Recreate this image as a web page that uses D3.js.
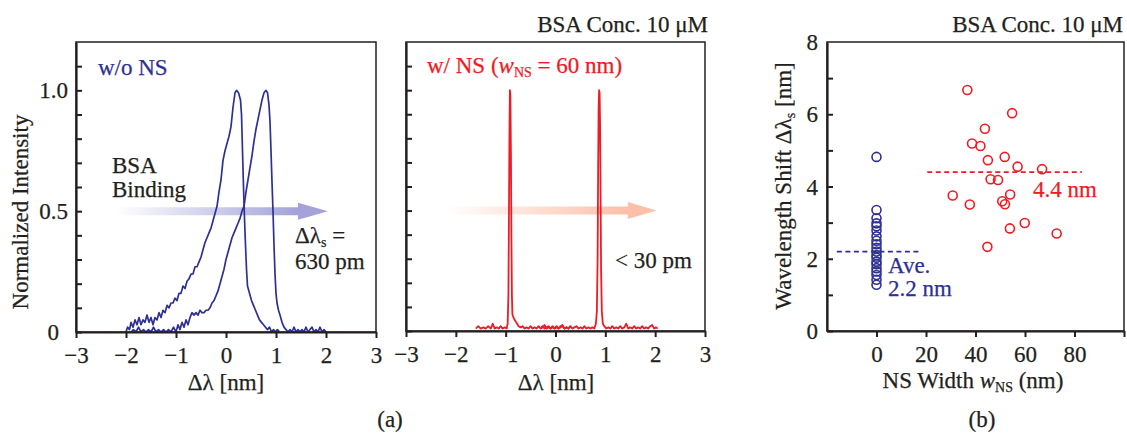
<!DOCTYPE html>
<html>
<head>
<meta charset="utf-8">
<script src="https://cdn.jsdelivr.net/npm/d3@7"></script>
<style>
  html, body { margin: 0; padding: 0; background: #fff; }
  svg text { font-family: "Liberation Serif", "Times New Roman", serif; }
</style>
</head>
<body>
<svg id="fig" width="1127" height="433"></svg>
<script>
// ---- spectra without nanoslot: before / after BSA binding (Δλ in nm, normalized intensity)
const blueBefore = [
  [-2.00,0.00],[-1.97,0.02],[-1.93,0.01],[-1.90,0.04],[-1.86,0.02],[-1.82,0.05],[-1.78,0.03],
  [-1.74,0.06],[-1.70,0.03],[-1.66,0.05],[-1.62,0.04],[-1.58,0.07],[-1.54,0.04],[-1.50,0.06],
  [-1.46,0.03],[-1.42,0.06],[-1.38,0.05],[-1.34,0.08],[-1.30,0.06],[-1.26,0.09],[-1.22,0.08],
  [-1.18,0.11],[-1.14,0.10],[-1.10,0.12],[-1.06,0.12],[-1.02,0.14],[-0.98,0.13],[-0.94,0.16],
  [-0.90,0.16],[-0.86,0.19],[-0.82,0.18],[-0.78,0.21],[-0.74,0.22],[-0.70,0.24],[-0.66,0.24],
  [-0.62,0.27],[-0.58,0.27],[-0.54,0.29],[-0.50,0.31],[-0.46,0.34],[-0.42,0.37],[-0.38,0.39],
  [-0.34,0.41],[-0.30,0.43],[-0.26,0.46],[-0.22,0.49],[-0.18,0.52],[-0.14,0.58],[-0.10,0.63],
  [-0.06,0.71],[-0.02,0.75],[0.02,0.78],[0.06,0.81],[0.10,0.85],[0.14,0.93],[0.18,0.99],
  [0.21,1.00],[0.25,0.99],[0.29,0.96],[0.31,0.90],[0.33,0.75],[0.35,0.60],[0.37,0.47],
  [0.39,0.36],[0.41,0.26],[0.43,0.19],[0.47,0.16],[0.51,0.13],[0.55,0.11],[0.59,0.09],
  [0.63,0.07],[0.67,0.05],[0.71,0.04],[0.75,0.03],[0.79,0.02],[0.83,0.01],[0.87,0.02],
  [0.91,0.00],[0.95,0.01],[0.99,0.00],[1.03,0.01],[1.07,0.00]
];
const blueAfter = [
  [-1.90,0.00],[-1.85,0.01],[-1.80,0.00],[-1.75,0.02],[-1.70,0.00],[-1.65,0.01],[-1.60,0.00],
  [-1.55,0.01],[-1.50,0.00],[-1.45,0.02],[-1.40,0.00],[-1.35,0.01],[-1.30,0.00],[-1.25,0.01],
  [-1.20,0.00],[-1.15,0.01],[-1.10,0.00],[-1.05,0.02],[-1.00,0.00],[-0.96,0.03],[-0.92,0.01],
  [-0.88,0.04],[-0.84,0.02],[-0.80,0.05],[-0.76,0.03],[-0.72,0.06],[-0.68,0.08],[-0.64,0.07],
  [-0.60,0.08],[-0.56,0.07],[-0.52,0.09],[-0.48,0.08],[-0.44,0.08],[-0.40,0.09],[-0.36,0.09],
  [-0.32,0.10],[-0.28,0.12],[-0.24,0.13],[-0.20,0.15],[-0.16,0.17],[-0.12,0.20],[-0.08,0.23],
  [-0.04,0.26],[0.00,0.30],[0.04,0.33],[0.08,0.36],[0.12,0.39],[0.16,0.41],[0.20,0.43],
  [0.24,0.45],[0.28,0.47],[0.32,0.50],[0.36,0.52],[0.40,0.58],[0.44,0.63],[0.48,0.68],
  [0.52,0.73],[0.56,0.79],[0.60,0.84],[0.64,0.88],[0.68,0.92],[0.72,0.96],[0.76,0.99],
  [0.80,1.00],[0.83,0.99],[0.86,0.94],[0.88,0.87],[0.90,0.75],[0.92,0.62],[0.94,0.50],
  [0.96,0.36],[0.98,0.24],[1.00,0.16],[1.02,0.12],[1.05,0.09],[1.08,0.07],[1.12,0.04],
  [1.16,0.02],[1.20,0.01],[1.24,0.00],[1.28,0.01],[1.32,0.00],[1.36,0.02],[1.40,0.00],
  [1.44,0.01],[1.48,0.00],[1.52,0.01],[1.56,0.00],[1.60,0.02],[1.64,0.00],[1.68,0.01],
  [1.72,0.02],[1.76,0.00],[1.80,0.01],[1.84,0.00],[1.88,0.02],[1.92,0.00],[1.96,0.01],[2.00,0.00]
];

// ---- spectra with nanoslot (w_NS = 60 nm)
const redBefore = [
  [-1.60,0.010],[-1.55,0.020],[-1.50,0.010],[-1.45,0.015],[-1.40,0.010],[-1.35,0.020],
  [-1.30,0.010],[-1.26,0.030],[-1.22,0.010],[-1.18,0.015],[-1.14,0.010],[-1.10,0.020],
  [-1.06,0.010],[-1.02,0.015],[-0.98,0.010],[-0.96,0.030],[-0.945,0.15],[-0.935,0.45],
  [-0.925,0.80],[-0.915,1.00],[-0.905,0.98],[-0.895,0.75],[-0.885,0.40],[-0.875,0.15],
  [-0.865,0.070],[-0.85,0.060],[-0.83,0.050],[-0.80,0.040],[-0.77,0.030],[-0.74,0.020],
  [-0.70,0.015],[-0.66,0.020],[-0.62,0.010],[-0.58,0.015],[-0.54,0.010],[-0.50,0.020],
  [-0.46,0.010],[-0.42,0.015],[-0.38,0.010],[-0.34,0.020],[-0.30,0.010],[-0.26,0.015],
  [-0.22,0.025],[-0.18,0.010],[-0.14,0.015],[-0.10,0.010],[-0.06,0.020],[-0.02,0.010],
  [0.02,0.015],[0.06,0.010],[0.10,0.020],[0.14,0.025],[0.18,0.010],[0.22,0.015],
  [0.26,0.010],[0.30,0.020]
];
const redAfter = [
  [-0.30,0.010],[-0.26,0.020],[-0.22,0.010],[-0.18,0.015],[-0.14,0.020],[-0.10,0.010],
  [-0.06,0.015],[-0.02,0.010],[0.02,0.020],[0.06,0.010],[0.10,0.015],[0.14,0.020],
  [0.18,0.010],[0.22,0.015],[0.26,0.010],[0.30,0.020],[0.34,0.010],[0.38,0.015],
  [0.42,0.020],[0.46,0.010],[0.50,0.015],[0.54,0.010],[0.58,0.020],[0.62,0.010],
  [0.66,0.015],[0.70,0.010],[0.74,0.015],[0.78,0.010],[0.81,0.030],[0.83,0.080],
  [0.845,0.30],[0.855,0.65],[0.865,0.92],[0.875,1.00],[0.885,0.99],[0.895,0.85],
  [0.905,0.55],[0.915,0.25],[0.93,0.080],[0.95,0.030],[0.98,0.020],[1.02,0.010],
  [1.06,0.015],[1.10,0.010],[1.14,0.020],[1.18,0.010],[1.22,0.015],[1.26,0.010],
  [1.30,0.020],[1.34,0.010],[1.38,0.015],[1.42,0.030],[1.46,0.010],[1.50,0.015],
  [1.54,0.010],[1.58,0.020],[1.62,0.010],[1.66,0.015],[1.70,0.010],[1.74,0.020],
  [1.78,0.010],[1.82,0.015],[1.86,0.010],[1.90,0.020],[1.94,0.025],[1.98,0.010],
  [2.02,0.015],[2.05,0.010]
];

// ---- wavelength shifts vs nanoslot width
const shiftNoNS = [4.82, 3.35, 3.12, 2.98, 2.90, 2.78, 2.62, 2.50, 2.40, 2.30, 2.20,
                   2.10, 2.03, 1.92, 1.85, 1.74, 1.65, 1.55, 1.42, 1.28];
const widthNS = [36.7, 54.8, 43.8, 38.6, 42.0, 45.0, 51.8, 57.0, 66.9, 46.1,
                 49.1, 30.8, 37.7, 54.0, 50.8, 51.9, 53.9, 59.9, 72.8, 44.8];
const shiftNS = [6.67, 6.03, 5.60, 5.19, 5.12, 4.73, 4.82, 4.55, 4.48, 4.20,
                 4.18, 3.75, 3.50, 3.78, 3.59, 3.51, 2.84, 2.99, 2.70, 2.33];
const avgNoNS = 2.2;
const avgNS = 4.4;

// ---- tick labels
const specXTicks = [-3, -2, -1, 0, 1, 2, 3];
const specYLabels = [[0, "0"], [0.5, "0.5"], [1.0, "1.0"]];
const widthTicks = [0, 20, 40, 60, 80];
const shiftTicks = [0, 2, 4, 6, 8];

const INK = "#231f20", BLUE = "#2e3192", RED = "#ed1c24";
const SERIF = "Liberation Serif, Times New Roman, serif";
const FS = 23;
const svg = d3.select("#fig");
svg.append("rect").attr("width", 1127).attr("height", 433).attr("fill", "#fff");

const defs = svg.append("defs");
function fadeGradient(id, color) {
  const g = defs.append("linearGradient").attr("id", id)
    .attr("x1", "0%").attr("x2", "100%").attr("y1", "0%").attr("y2", "0%");
  g.append("stop").attr("offset", "0%").attr("stop-color", color).attr("stop-opacity", 0);
  g.append("stop").attr("offset", "85%").attr("stop-color", color).attr("stop-opacity", 1);
  g.append("stop").attr("offset", "100%").attr("stop-color", color).attr("stop-opacity", 1);
}
fadeGradient("fadeBlue", "#a3a3da");
fadeGradient("fadeRed", "#fcc0aa");

// ---- scales
const x1 = d3.scaleLinear().domain([-3, 3]).range([76, 376]);
const y1 = d3.scaleLinear().domain([0, 1.2]).range([332, 42]);
const x2 = d3.scaleLinear().domain([-3, 3]).range([406, 705]);
const y2 = d3.scaleLinear().domain([0, 1.2]).range([331, 42]);
const x3 = d3.scaleLinear().domain([-20, 100]).range([827, 1124]);
const y3 = d3.scaleLinear().domain([0, 8]).range([331, 42]);

function frame(x, y) {
  const [l, r] = x.range(), [b, t] = y.range();
  svg.append("rect").attr("x", l).attr("y", t).attr("width", r - l).attr("height", b - t)
    .attr("fill", "none").attr("stroke", INK).attr("stroke-width", 1.5);
}

function styleText(sel) {
  return sel.attr("font-family", SERIF).attr("font-size", FS).attr("fill", INK)
    .attr("stroke", INK).attr("stroke-width", 0.25);
}

function styleAxis(g) {
  g.attr("font-family", SERIF).attr("font-size", FS);
  g.select(".domain").attr("stroke", INK).attr("stroke-width", 2.2);
  g.selectAll(".tick line").attr("stroke", INK).attr("stroke-width", 2);
  styleText(g.selectAll("text"));
}

function bottomAxis(x, y, ticks, labels) {
  const g = svg.append("g").attr("transform", `translate(0,${y.range()[0]})`)
    .call(d3.axisBottom(x).tickValues(ticks).tickSizeInner(6).tickSizeOuter(0).tickPadding(9)
      .tickFormat(d => labels.includes(d) ? d3.format("")(d) : ""));
  styleAxis(g);
  return g;
}

function leftAxis(x, y, ticks) {
  const g = svg.append("g").attr("transform", `translate(${x.range()[0]},0)`)
    .call(d3.axisLeft(y).tickValues(ticks).tickSizeInner(-6).tickSizeOuter(0).tickFormat(""));
  styleAxis(g);
  return g;
}

function arrow(x, y, from, to, head, fill) {
  const ys = y(0.5);
  const path = d3.path();
  path.moveTo(x(from), ys - 4);
  path.lineTo(x(head), ys - 4);
  path.lineTo(x(head), ys - 8.5);
  path.lineTo(x(to), ys);
  path.lineTo(x(head), ys + 8.5);
  path.lineTo(x(head), ys + 4);
  path.lineTo(x(from), ys + 4);
  path.closePath();
  svg.append("path").attr("d", path.toString()).attr("fill", fill);
}

function label(x, y, parts, opts = {}) {
  const t = styleText(svg.append("text")).attr("x", x).attr("y", y)
    .attr("text-anchor", opts.anchor || "start");
  if (opts.color) t.attr("fill", opts.color).attr("stroke", opts.color);
  if (opts.rotate) t.attr("transform", `rotate(-90,${x},${y})`);
  parts.forEach(p => {
    if (typeof p === "string") { t.append("tspan").text(p); return; }
    const s = t.append("tspan").text(p.text);
    if (p.italic) s.attr("font-style", "italic");
    if (p.sub) s.attr("font-size", 14).attr("dy", 4);
    if (p.after) s.attr("dy", -4);
  });
  return t;
}

const specTicksY = d3.range(0, 1.15, 0.1);

// ======== panel (a), left: without nanoslot ========
arrow(x1, y1, -2.2, 2.04, 1.44, "url(#fadeBlue)");
const line1 = d3.line().x(d => x1(d[0])).y(d => y1(d[1]));
[blueBefore, blueAfter].forEach(s =>
  svg.append("path").attr("d", line1(s)).attr("fill", "none")
    .attr("stroke", BLUE).attr("stroke-width", 1.7).attr("stroke-linejoin", "round"));
frame(x1, y1);
bottomAxis(x1, y1, specXTicks, specXTicks);
leftAxis(x1, y1, specTicksY);
specYLabels.forEach(([v, s]) => {
  styleText(svg.append("text"))
    .attr("x", v === 0 ? x1.range()[0] - 17 : x1.range()[0] - 8)
    .attr("y", y1(v)).attr("dy", "0.35em").attr("text-anchor", "end").text(s);
});
label(226, 390, ["Δλ [nm]"], { anchor: "middle" });
label(28, 212, ["Normalized Intensity"], { anchor: "middle", rotate: true });
label(98, 75, ["w/o NS"], { color: BLUE });
label(112, 173, ["BSA"]);
label(112, 197, ["Binding"]);
label(295, 243, ["Δλ", { text: "s", sub: true }, { text: " =", after: true }]);
label(295, 269, ["630 pm"]);

// ======== panel (a), right: with nanoslot ========
arrow(x2, y2, -2.2, 2.03, 1.45, "url(#fadeRed)");
const line2 = d3.line().x(d => x2(d[0])).y(d => y2(d[1]));
[redBefore, redAfter].forEach(s =>
  svg.append("path").attr("d", line2(s)).attr("fill", "none")
    .attr("stroke", RED).attr("stroke-width", 1.8).attr("stroke-linejoin", "round"));
frame(x2, y2);
bottomAxis(x2, y2, specXTicks, specXTicks);
leftAxis(x2, y2, specTicksY);
label(556, 390, ["Δλ [nm]"], { anchor: "middle" });
label(427, 73, ["w/ NS (", { text: "w", italic: true }, { text: "NS", sub: true },
  { text: " = 60 nm)", after: true }], { color: RED });
label(615, 268, ["< 30 pm"]);
label(708, 32, ["BSA Conc. 10 μM"], { anchor: "end" });

// ======== panel (b): shift vs width ========
frame(x3, y3);
bottomAxis(x3, y3, [0, 20, 40, 60, 80, 100], widthTicks);
leftAxis(x3, y3, d3.range(0, 8, 1));
shiftTicks.forEach(v => {
  styleText(svg.append("text")).attr("x", x3.range()[0] - 9).attr("y", y3(v)).attr("dy", "0.35em")
    .attr("text-anchor", "end").text(v);
});
svg.append("line").attr("x1", x3(-16)).attr("x2", x3(17)).attr("y1", y3(avgNoNS)).attr("y2", y3(avgNoNS))
  .attr("stroke", BLUE).attr("stroke-width", 1.7).attr("stroke-dasharray", "5,3.5");
svg.append("line").attr("x1", x3(20.5)).attr("x2", x3(83)).attr("y1", y3(avgNS)).attr("y2", y3(avgNS))
  .attr("stroke", RED).attr("stroke-width", 1.7).attr("stroke-dasharray", "5,3.5");
svg.append("g").selectAll("circle").data(shiftNoNS).join("circle")
  .attr("cx", x3(0)).attr("cy", d => y3(d)).attr("r", 4.5)
  .attr("fill", "none").attr("stroke", BLUE).attr("stroke-width", 1.6);
svg.append("g").selectAll("circle").data(widthNS).join("circle")
  .attr("cx", d => x3(d)).attr("cy", (d, i) => y3(shiftNS[i])).attr("r", 4.5)
  .attr("fill", "none").attr("stroke", RED).attr("stroke-width", 1.6);
label(888, 273, ["Ave."], { color: BLUE });
label(888, 296, [avgNoNS.toFixed(1) + " nm"], { color: BLUE });
label(1033, 197, [avgNS.toFixed(1) + " nm"], { color: RED });
label(1123, 32, ["BSA Conc. 10 μM"], { anchor: "end" });
label(973, 388, ["NS Width ", { text: "w", italic: true }, { text: "NS", sub: true },
  { text: " (nm)", after: true }], { anchor: "middle" });
label(791, 186, ["Wavelength Shift Δλ", { text: "s", sub: true }, { text: " [nm]", after: true }],
  { anchor: "middle", rotate: true });

// ---- panel captions
label(390, 427, ["(a)"], { anchor: "middle" });
label(982, 427, ["(b)"], { anchor: "middle" });
</script>
</body>
</html>
